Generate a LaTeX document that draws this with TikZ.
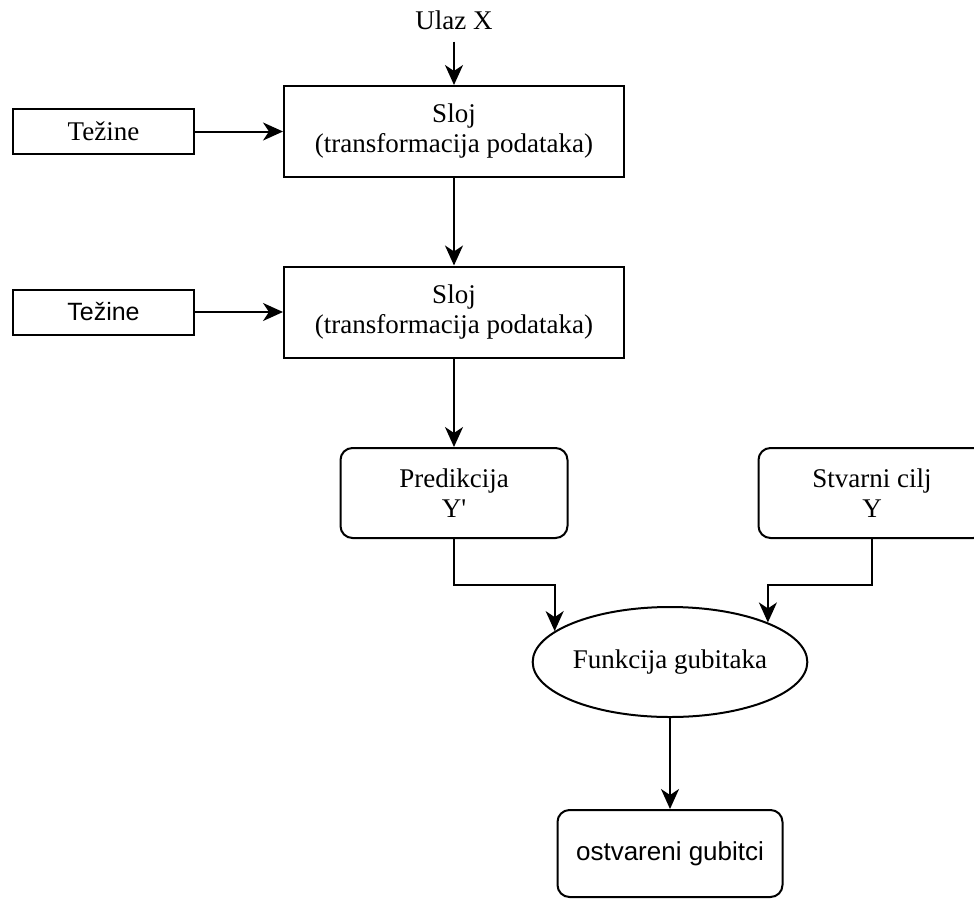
\documentclass[tikz,border=0pt]{standalone}
\usepackage{fontspec}
\setmainfont{Liberation Serif}
\setsansfont{Liberation Sans}
\usetikzlibrary{shapes.geometric, arrows.meta}

\begin{document}
\begin{tikzpicture}[
            x=1pt, y=-1pt, % pixel coordinates, y grows downwards
            every node/.style={font=\fontsize{27}{30}\selectfont, align=center, inner sep=0pt}, % serif text
            sloj/.style={rectangle, draw, line width=2pt, minimum width=340pt, minimum height=91pt}, % layer box
            tezina/.style={rectangle, draw, line width=2pt, minimum width=181pt, minimum height=45pt}, % weights box
            zaobljen/.style={rectangle, draw, rounded corners=12pt, line width=2pt, minimum width=227pt, minimum height=90pt}, % rounded box
            strelica/.style={-{Stealth[length=20pt, width=18pt, inset=6pt]}, line width=2pt} % arrow
            ]
        \useasboundingbox (0,0) rectangle (974,900);

                % input and the two layers
                \node (ulaz) at (454,20) {Ulaz X};
                \node[sloj] (sloj1) at (454,131.5) {Sloj\\(transformacija podataka)};
                \node[sloj] (sloj2) at (454,312) {Sloj\\(transformacija podataka)};
                \node[tezina] (tez1) at (103.5,131.5) {Težine};
                \node[tezina, font=\sffamily\fontsize{25}{30}\selectfont] (tez2) at (103.5,312) {Težine};

                % prediction, target and loss
                \node[zaobljen] (pred) at (454,493) {Predikcija\\Y\textquotesingle};
                \node[zaobljen] (cilj) at (872,493) {Stvarni cilj\\Y};
                \node[ellipse, draw, line width=2pt, minimum width=274pt, minimum height=110pt] (gub) at (670,662) {Funkcija gubitaka};
                \node[zaobljen, minimum width=225pt, minimum height=87pt, font=\sffamily\fontsize{26}{30}\selectfont] (ostv) at (670,853.5) {ostvareni gubitci};

                \draw[strelica, shorten <=12pt] (ulaz) -- (sloj1);
                \draw[strelica] (tez1) -- (sloj1);
                \draw[strelica] (tez2) -- (sloj2);
                \draw[strelica] (sloj1) -- (sloj2);
                \draw[strelica] (sloj2) -- (pred);
                \draw[strelica] (pred.south) -- ++(0,46) -| (gub.165);
                \draw[strelica] (cilj.south) -- ++(0,46) -| (gub.22.6);
                \draw[strelica] (gub) -- (ostv);

            \end{tikzpicture}
\end{document}
